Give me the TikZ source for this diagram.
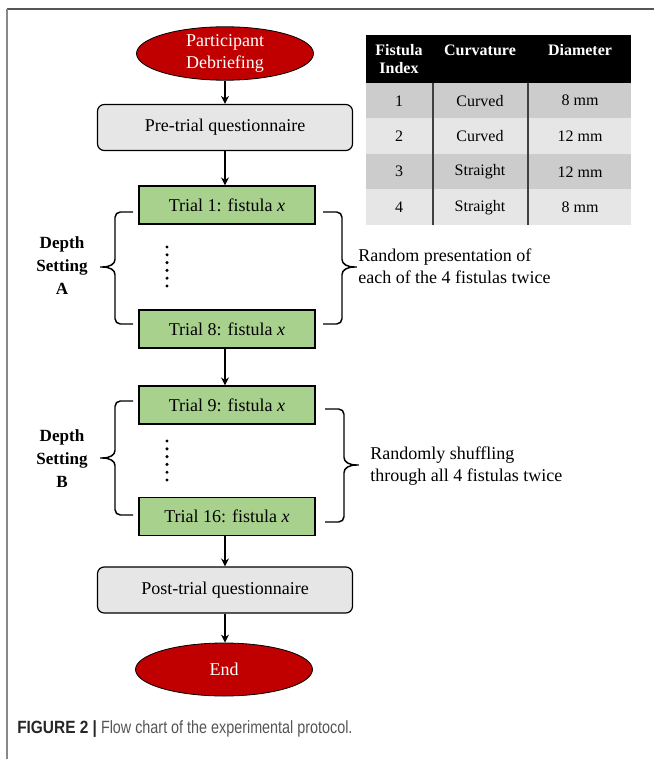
\documentclass[tikz,border=0pt]{standalone}
\usepackage{fontspec}
\setmainfont{Liberation Serif}
\newfontfamily\capfont[FakeStretch=0.81, BoldFeatures={FakeStretch=0.87}]{Liberation Sans}
\usetikzlibrary{shapes.geometric, arrows.meta}
\definecolor{darkred}{HTML}{C00000}
\definecolor{trialgreen}{HTML}{A9D18E}
\definecolor{boxgray}{HTML}{E7E6E6}
\definecolor{rowdark}{HTML}{CCCCCC}
\definecolor{rowlight}{HTML}{E6E6E6}
\definecolor{framegray}{HTML}{888888}
\definecolor{capgray}{HTML}{555555}

\begin{document}
\begin{tikzpicture}[x=0.75pt, y=-0.75pt, >={Stealth[length=6pt, width=6pt]}, font=\fontsize{13.5}{16.5}\selectfont,
    term/.style={draw, ellipse, fill=darkred, text=white, minimum width=132.75pt, minimum height=39.75pt, inner sep=0pt, align=center, line width=0.6pt},
    quest/.style={draw, rounded corners=5pt, fill=boxgray, minimum width=191.25pt, minimum height=34.5pt, line width=0.9pt},
    trial/.style={draw, fill=trialgreen, minimum width=132pt, minimum height=28.5pt, line width=0.9pt},
    flow/.style={->, line width=1.5pt},
    curly/.style={line width=1.1pt, rounded corners=4pt},
    depth/.style={align=center, font=\fontsize{12.8}{17.25}\selectfont\bfseries},
    note/.style={anchor=west, align=left, inner sep=0pt},
    cell/.style={inner sep=0pt, font=\fontsize{12}{14}\selectfont},
    thead/.style={inner sep=0pt, text=white, align=center, font=\fontsize{12}{13.5}\selectfont\bfseries}]
    \useasboundingbox (0,0) rectangle (654,759);

    % Frame
    \draw[line width=0.9pt, capgray] (7,9) -- (654,9);
    \draw[line width=1.5pt, framegray] (7,9) -- (7,759);

    % Nodes
    \node[term] (start) at (225,53.5) {Participant\\Debriefing};
    \node[quest] (pre) at (225,127.5) {Pre-trial questionnaire};
    \node[trial] (t1) at (227,205) {Trial 1: fistula \textit{x}};
    \node[trial] (t8) at (227,329) {Trial 8: fistula \textit{x}};
    \node[trial] (t9) at (227,405) {Trial 9: fistula \textit{x}};
    \node[trial] (t16) at (227,516.5) {Trial 16: fistula \textit{x}};
    \node[quest] (post) at (225,590) {Post-trial questionnaire};
    \node[term] (end) at (224,669.5) {End};

    \node[depth] (dsa) at (62,266) {Depth\\Setting\\A};
    \node[depth] (dsb) at (62,459) {Depth\\Setting\\B};
    \node[note] (ra) at (358,266) {Random presentation of\\each of the 4 fistulas twice};
    \node[note] (rb) at (370,466) {Randomly shuffling\\through all 4 fistulas twice};

    % Dots
    \foreach \i in {0,...,5} {
        \fill (167,247+7.8*\i) circle (1.7);
        \fill (167,441+7.8*\i) circle (1.7);
    }

    % Braces
    \draw[curly] (133,212) -- (115,212) -- (115,254) .. controls (115,264) and (110,267) .. (97,267)
        .. controls (110,267) and (115,270) .. (115,280) -- (115,324) -- (133,324);
    \draw[curly] (323,212) -- (342,212) -- (342,254) .. controls (342,264) and (347,267) .. (360,267)
        .. controls (347,267) and (342,270) .. (342,280) -- (342,324) -- (323,324);
    \draw[curly] (133,401) -- (115,401) -- (115,445) .. controls (115,455) and (110,458) .. (97,458)
        .. controls (110,458) and (115,461) .. (115,471) -- (115,515) -- (133,515);
    \draw[curly] (325,409) -- (344,409) -- (344,452) .. controls (344,462) and (349,465) .. (362,465)
        .. controls (349,465) and (344,468) .. (344,478) -- (344,522) -- (325,522);

    % Edges
    \draw[flow] (start) -- (pre);
    \draw[flow] (pre) -- (pre |- t1.north);
    \draw[flow] (t8.south -| pre) -- (pre |- t9.north);
    \draw[flow] (t16.south -| pre) -- (post);
    \draw[flow] (post) -- (post |- end.north);

    % Table
    \fill[black] (366,35) rectangle (631,83);
    \foreach \y/\c in {83/rowdark,118.5/rowlight,154/rowdark,189.5/rowlight}
        \fill[\c] (366,\y) rectangle (631,\y+35.5);
    \draw[line width=1.4pt, black!75] (433,83) -- (433,225);
    \draw[line width=1.4pt, black!75] (528,83) -- (528,225);
    \node[thead] (hidx) at (399,59) {Fistula\\Index};
    \node[thead] (hcurv) at (480,50) {Curvature};
    \node[thead] (hdiam) at (580,50) {Diameter};
    \foreach \r/\cv/\d [count=\k] in {1/Curved/8 mm, 2/Curved/12 mm, 3/Straight/12 mm, 4/Straight/8 mm} {
        \node[cell] (idx\k) at (399,65.25+35.5*\k) {\r};
        \node[cell] (curv\k) at (480,65.25+35.5*\k) {\cv};
        \node[cell] (diam\k) at (580,65.25+35.5*\k) {\d};
    }

    % Caption
    \node[anchor=west, inner sep=0pt, font=\capfont\fontsize{13.3}{15}\selectfont] (cap) at (17,729)
        {\textcolor{black!85}{\bfseries FIGURE 2 |} \textcolor{capgray}{Flow chart of the experimental protocol.}};
\end{tikzpicture}
\end{document}
